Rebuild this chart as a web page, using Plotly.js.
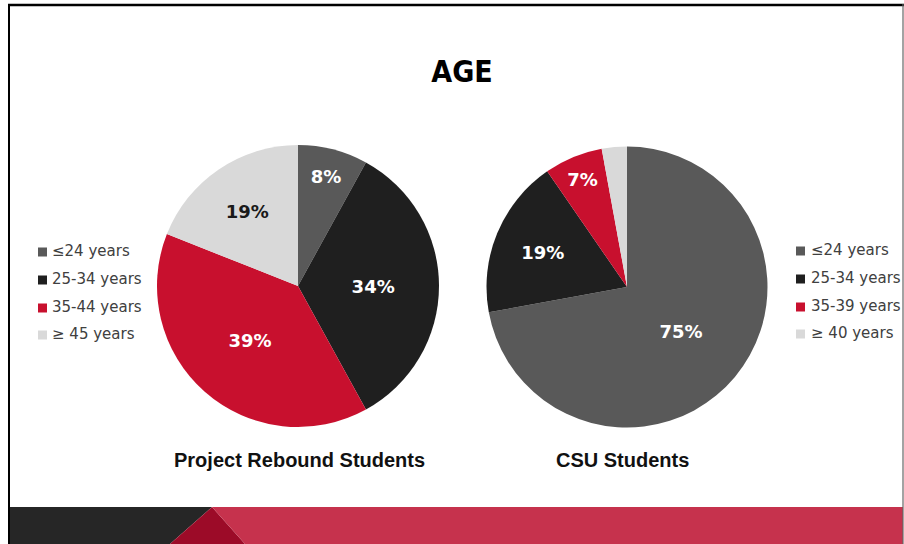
<!DOCTYPE html>
<html>
<head>
<meta charset="utf-8">
<script src="https://cdn.plot.ly/plotly-3.0.1.min.js"></script>
<style>html,body{margin:0;padding:0;background:#fff;}#chart{width:904px;height:544px;}</style>
</head>
<body>
<div id="chart"></div>
<script>
// ---- data ----
var chartTitle = 'AGE';
var reboundTitle = 'Project Rebound Students';
var reboundLabels = ['\u226424 years', '25-34 years', '35-44 years', '\u2265 45 years'];
var reboundValues = [8, 34, 39, 19];
var reboundShown = [true, true, true, true];

var csuTitle = 'CSU Students';
var csuLabels = ['\u226424 years', '25-34 years', '35-39 years', '\u2265 40 years'];
var csuValues = [75, 19, 7, 3];
var csuShown = [true, true, true, false];

var sliceColors = ['#595959', '#1f1f1f', '#c8102e', '#d9d9d9'];
var labelColors = ['#ffffff', '#ffffff', '#ffffff', '#1a1a1a'];

// ---- helpers (pixel -> paper) ----
var W = 904, H = 544;
function X(px) { return px / W; }
function Y(py) { return 1 - py / H; }

function pieTrace(labels, values, shown, cx, cy, r) {
  return {
    type: 'pie',
    labels: labels,
    values: values,
    sort: false,
    direction: 'clockwise',
    rotation: 0,
    marker: { colors: sliceColors, line: { width: 0 } },
    textinfo: 'none',
    texttemplate: shown.map(function (s) { return s ? '%{value}%' : ''; }),
    textposition: 'inside',
    insidetextorientation: 'horizontal',
    insidetextfont: { family: 'DejaVu Sans', size: 18, weight: 'bold', color: labelColors },
    hoverinfo: 'label+value',
    showlegend: false,
    domain: { x: [X(cx - r), X(cx + r)], y: [Y(cy + r), Y(cy - r)] }
  };
}

var traces = [
  pieTrace(reboundLabels, reboundValues, reboundShown, 298, 286, 141),
  pieTrace(csuLabels, csuValues, csuShown, 627, 287, 140.5)
];

var shapes = [];
var annotations = [];

// bottom band
shapes.push({ type: 'path', xref: 'paper', yref: 'paper', line: { width: 0 }, fillcolor: '#262626',
  path: 'M' + X(10) + ',' + Y(507) + ' L' + X(212) + ',' + Y(507) + ' L' + X(170) + ',' + Y(544) + ' L' + X(10) + ',' + Y(544) + ' Z' });
shapes.push({ type: 'path', xref: 'paper', yref: 'paper', line: { width: 0 }, fillcolor: '#9c0b28',
  path: 'M' + X(212) + ',' + Y(507) + ' L' + X(245) + ',' + Y(544) + ' L' + X(170) + ',' + Y(544) + ' Z' });
shapes.push({ type: 'path', xref: 'paper', yref: 'paper', line: { width: 0 }, fillcolor: '#c6324d',
  path: 'M' + X(212) + ',' + Y(507) + ' L' + X(903) + ',' + Y(507) + ' L' + X(903) + ',' + Y(544) + ' L' + X(245) + ',' + Y(544) + ' Z' });

// frame
shapes.push({ type: 'line', xref: 'paper', yref: 'paper', x0: X(8), x1: X(904), y0: Y(5), y1: Y(5), line: { color: '#000', width: 2.5 } });
shapes.push({ type: 'line', xref: 'paper', yref: 'paper', x0: X(9), x1: X(9), y0: Y(4), y1: Y(545), line: { color: '#000', width: 2 } });
shapes.push({ type: 'line', xref: 'paper', yref: 'paper', x0: X(903), x1: X(903), y0: Y(4), y1: Y(545), line: { color: '#666', width: 1.2 } });

// legends
function addLegend(labels, sqX, textX, rowYs) {
  labels.forEach(function (lab, i) {
    var cy = rowYs[i];
    shapes.push({ type: 'rect', xref: 'paper', yref: 'paper',
      x0: X(sqX), x1: X(sqX + 9), y0: Y(cy + 5.5), y1: Y(cy - 3.5),
      fillcolor: sliceColors[i], line: { width: 0 } });
    annotations.push({ xref: 'paper', yref: 'paper', x: X(textX), y: Y(cy), xanchor: 'left', yanchor: 'middle',
      text: lab, showarrow: false, font: { family: 'DejaVu Sans', size: 15, color: '#404040' } });
  });
}
addLegend(reboundLabels, 38, 50, [251, 279, 307, 334]);
addLegend(csuLabels, 796, 809, [250, 278, 306, 333]);

// subtitles
annotations.push({ xref: 'paper', yref: 'paper', x: X(299), y: Y(460), xanchor: 'center', yanchor: 'middle',
  text: reboundTitle, showarrow: false, font: { family: 'Liberation Sans, Arial, sans-serif', size: 20, weight: 'bold', color: '#111' } });
annotations.push({ xref: 'paper', yref: 'paper', x: X(622.5), y: Y(460), xanchor: 'center', yanchor: 'middle',
  text: csuTitle, showarrow: false, font: { family: 'Liberation Sans, Arial, sans-serif', size: 20, weight: 'bold', color: '#111' } });

var layout = {
  width: W, height: H,
  margin: { l: 0, r: 0, t: 0, b: 0 },
  paper_bgcolor: '#ffffff',
  plot_bgcolor: '#ffffff',
  showlegend: false,
  title: { text: chartTitle, x: X(462), xanchor: 'center', y: Y(71), yanchor: 'middle', yref: 'container',
    font: { family: 'DejaVu Sans Condensed, Liberation Sans Narrow, sans-serif', size: 30, weight: 'bold', color: '#000' } },
  shapes: shapes,
  annotations: annotations
};

Plotly.newPlot('chart', traces, layout, { displayModeBar: false, staticPlot: true });
</script>
</body>
</html>
